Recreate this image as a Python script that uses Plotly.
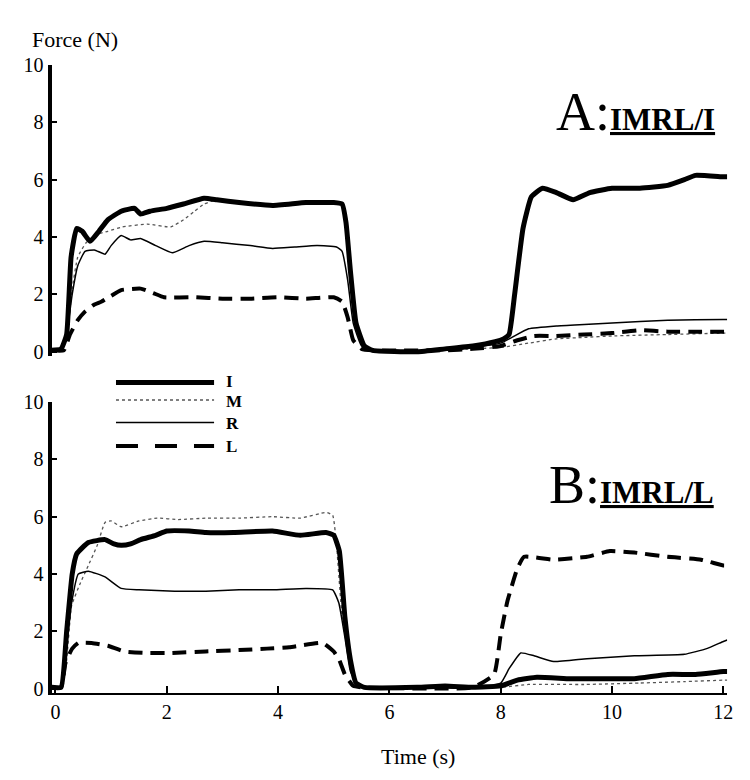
import plotly.graph_objects as go

# ---- Panel A: IMRL/I ----
a_i_t = [-0.07, 0.1, 0.2, 0.28, 0.38, 0.48, 0.62, 0.78, 0.94, 1.18, 1.42, 1.53, 1.7, 2.0, 2.3, 2.67, 2.9, 3.3, 3.9, 4.5, 5.0, 5.15, 5.22, 5.3, 5.4, 5.55, 5.7, 6.5, 7.0, 7.5, 7.9, 8.05, 8.15, 8.25, 8.4, 8.55, 8.75, 9.0, 9.3, 9.6, 10.0, 10.5, 11.0, 11.3, 11.5, 12.0, 12.07]
a_i_v = [0.05, 0.1, 0.6, 3.3, 4.3, 4.2, 3.85, 4.2, 4.6, 4.9, 5.0, 4.8, 4.9, 5.0, 5.15, 5.35, 5.3, 5.2, 5.1, 5.2, 5.2, 5.15, 4.5, 2.8, 1.0, 0.2, 0.05, 0.0, 0.1, 0.2, 0.35, 0.45, 0.6, 2.0, 4.3, 5.4, 5.7, 5.55, 5.3, 5.55, 5.7, 5.7, 5.8, 6.0, 6.15, 6.1, 6.1]

a_m_t = [-0.07, 0.1, 0.2, 0.3, 0.4, 0.55, 0.75, 0.94, 1.2, 1.65, 2.07, 2.3, 2.5, 2.67, 2.9, 3.3, 3.9, 4.5, 5.0, 5.15, 5.25, 5.35, 5.5, 5.7, 6.5, 7.0, 7.5, 8.0, 8.5, 9.0, 9.5, 10.0, 11.0, 12.0, 12.07]
a_m_v = [0.05, 0.05, 0.5, 2.2, 3.3, 3.8, 4.1, 4.2, 4.35, 4.45, 4.35, 4.6, 4.9, 5.15, 5.3, 5.2, 5.1, 5.2, 5.2, 5.1, 3.5, 1.5, 0.3, 0.05, 0.0, 0.05, 0.1, 0.15, 0.3, 0.45, 0.5, 0.55, 0.6, 0.65, 0.65]

a_r_t = [-0.07, 0.12, 0.2, 0.3, 0.4, 0.53, 0.7, 0.89, 1.0, 1.18, 1.35, 1.53, 1.8, 2.1, 2.4, 2.67, 3.0, 3.5, 3.9, 4.3, 4.7, 5.05, 5.15, 5.25, 5.35, 5.5, 5.7, 7.0, 7.5, 8.0, 8.2, 8.5, 9.0, 9.5, 10.0, 11.0, 12.0, 12.07]
a_r_v = [0.05, 0.05, 0.6, 2.0, 3.0, 3.5, 3.55, 3.4, 3.7, 4.05, 3.9, 3.95, 3.7, 3.45, 3.7, 3.85, 3.8, 3.7, 3.6, 3.65, 3.7, 3.65, 3.5, 2.5, 1.0, 0.2, 0.05, 0.05, 0.15, 0.3, 0.5, 0.8, 0.9, 0.95, 1.0, 1.1, 1.12, 1.12]

a_l_t = [-0.07, 0.15, 0.26, 0.4, 0.53, 0.7, 0.83, 1.0, 1.18, 1.53, 1.75, 1.95, 2.5, 3.0, 3.5, 4.0, 4.5, 5.0, 5.15, 5.25, 5.35, 5.5, 5.7, 7.0, 7.5, 8.0, 8.3, 8.6, 9.0, 9.5, 10.0, 10.5, 11.0, 11.5, 12.0, 12.07]
a_l_v = [0.05, 0.05, 0.6, 1.1, 1.4, 1.65, 1.75, 1.95, 2.15, 2.2, 2.05, 1.9, 1.9, 1.85, 1.85, 1.9, 1.85, 1.9, 1.75, 1.2, 0.4, 0.1, 0.05, 0.05, 0.1, 0.2, 0.4, 0.55, 0.55, 0.6, 0.65, 0.75, 0.7, 0.7, 0.7, 0.7]

# ---- Panel B: IMRL/L ----
b_i_t = [-0.07, 0.1, 0.2, 0.3, 0.38, 0.59, 0.89, 1.05, 1.18, 1.35, 1.53, 1.8, 2.0, 2.4, 2.7, 3.2, 3.9, 4.4, 4.86, 5.0, 5.1, 5.2, 5.3, 5.4, 5.55, 6.5, 7.0, 7.5, 8.0, 8.3, 8.65, 9.25, 9.8, 10.4, 11.0, 11.5, 12.0, 12.07]
b_i_v = [0.05, 0.05, 2.0, 4.0, 4.7, 5.1, 5.2, 5.05, 5.0, 5.05, 5.2, 5.35, 5.5, 5.5, 5.45, 5.45, 5.5, 5.35, 5.45, 5.35, 4.8, 2.5, 1.0, 0.2, 0.05, 0.05, 0.1, 0.05, 0.1, 0.3, 0.4, 0.35, 0.35, 0.35, 0.5, 0.5, 0.6, 0.6]

b_m_t = [-0.07, 0.1, 0.2, 0.29, 0.45, 0.59, 0.75, 0.89, 1.0, 1.18, 1.5, 1.83, 2.2, 2.72, 3.3, 3.9, 4.4, 4.86, 4.98, 5.05, 5.15, 5.3, 5.45, 5.6, 8.0, 8.5, 9.5, 10.5, 11.3, 12.0, 12.07]
b_m_v = [0.05, 0.05, 1.0, 2.9, 3.7, 4.3, 5.0, 5.8, 5.85, 5.65, 5.85, 5.95, 5.9, 5.95, 5.95, 6.0, 5.95, 6.15, 6.05, 5.0, 2.5, 0.8, 0.1, 0.05, 0.05, 0.15, 0.15, 0.2, 0.25, 0.3, 0.3]

b_r_t = [-0.07, 0.1, 0.2, 0.29, 0.41, 0.59, 0.89, 1.18, 1.5, 2.14, 2.7, 3.3, 3.9, 4.5, 4.98, 5.09, 5.2, 5.3, 5.45, 5.6, 7.5, 8.0, 8.15, 8.36, 8.6, 8.95, 9.55, 10.4, 11.3, 11.7, 12.0, 12.07]
b_r_v = [0.05, 0.05, 1.5, 3.0, 4.0, 4.1, 3.9, 3.5, 3.45, 3.4, 3.4, 3.45, 3.45, 3.5, 3.45, 3.0, 1.8, 0.6, 0.1, 0.05, 0.05, 0.2, 0.7, 1.25, 1.15, 0.95, 1.05, 1.15, 1.2, 1.4, 1.65, 1.7]

b_l_t = [-0.07, 0.1, 0.18, 0.3, 0.41, 0.65, 0.94, 1.24, 1.6, 2.1, 2.7, 3.3, 3.8, 4.2, 4.8, 5.0, 5.1, 5.2, 5.35, 5.5, 7.5, 7.88, 8.0, 8.12, 8.3, 8.42, 8.95, 9.55, 9.96, 10.4, 11.0, 11.6, 12.0, 12.07]
b_l_v = [0.05, 0.05, 0.9, 1.4, 1.6, 1.6, 1.5, 1.3, 1.25, 1.25, 1.3, 1.35, 1.4, 1.45, 1.6, 1.3, 1.0, 0.5, 0.1, 0.05, 0.05, 0.5, 1.9, 3.05, 4.2, 4.6, 4.5, 4.6, 4.8, 4.75, 4.6, 4.5, 4.3, 4.3]

x_ticks = [0, 2, 4, 6, 8, 10, 12]
y_ticks = [0, 2, 4, 6, 8, 10]
legend_names = ["I", "M", "R", "L"]

W, H = 750, 780
SERIF = "Liberation Serif"

styles = {
    "I": dict(color="black", width=5, dash="solid"),
    "M": dict(color="#555555", width=1.3, dash="dot"),
    "R": dict(color="black", width=1.5, dash="solid"),
    "L": dict(color="black", width=4, dash="14px,8px"),
}

fig = go.Figure()
panels = [
    ("x", "y", [(a_i_t, a_i_v, "I"), (a_m_t, a_m_v, "M"), (a_r_t, a_r_v, "R"), (a_l_t, a_l_v, "L")]),
    ("x2", "y2", [(b_i_t, b_i_v, "I"), (b_m_t, b_m_v, "M"), (b_r_t, b_r_v, "R"), (b_l_t, b_l_v, "L")]),
]
# thin lines first, thick on top
order = {"M": 0, "R": 1, "L": 2, "I": 3}
for xa, ya, series in panels:
    for t, v, name in sorted(series, key=lambda s: order[s[2]]):
        fig.add_trace(go.Scatter(x=t, y=v, mode="lines", name=name, xaxis=xa, yaxis=ya,
                                 line=dict(shape="spline", smoothing=0.4, **styles[name]),
                                 showlegend=False))

def px_x(p):
    return p / W

def px_y(p):
    return 1 - p / H

xdom = [px_x(43), px_x(725)]
xr = [-0.07, 12.07]
yr = [-0.15, 10]
tickfont = dict(family=SERIF, size=20, color="black")

fig.update_layout(
    width=W, height=H,
    margin=dict(l=0, r=0, t=0, b=0),
    paper_bgcolor="white", plot_bgcolor="white",
    font=dict(family=SERIF, color="black"),
    xaxis=dict(domain=xdom, range=xr, anchor="y", showline=False, showticklabels=False,
               ticks="", showgrid=False, zeroline=False),
    yaxis=dict(domain=[px_y(345), px_y(47)], range=yr, anchor="x", tickvals=y_ticks,
               showline=True, linewidth=4, linecolor="black", ticks="inside", ticklen=5,
               tickwidth=2, tickcolor="black", showgrid=False, zeroline=False, tickfont=tickfont),
    xaxis2=dict(domain=xdom, range=xr, anchor="y2", tickvals=x_ticks, showline=True,
                linewidth=2, linecolor="black", ticks="inside", ticklen=7, tickwidth=2,
                tickcolor="black", showgrid=False, zeroline=False, tickfont=tickfont),
    yaxis2=dict(domain=[px_y(690), px_y(392)], range=yr, anchor="x2", tickvals=y_ticks,
                showline=True, linewidth=4, linecolor="black", ticks="inside", ticklen=5,
                tickwidth=2, tickcolor="black", showgrid=False, zeroline=False, tickfont=tickfont),
)

# legend drawn as line samples with bold letters
leg_y = [372, 390, 413, 437]
lab_y = [371, 392, 414, 438]
for name, py, ly in zip(legend_names, leg_y, lab_y):
    st = styles[name]
    dash = "22px,17px" if name == "L" else st["dash"]
    fig.add_shape(type="line", xref="paper", yref="paper",
                  x0=px_x(108), x1=px_x(207), y0=px_y(py), y1=px_y(py),
                  line=dict(color=st["color"], width=st["width"], dash=dash))
    fig.add_annotation(text="<b>%s</b>" % name, xref="paper", yref="paper",
                       x=px_x(217), y=px_y(ly), xanchor="left", yanchor="middle",
                       showarrow=False, font=dict(family=SERIF, size=17, color="black"))

fig.add_annotation(text="Force (N)", xref="paper", yref="paper", x=px_x(21), y=px_y(21),
                   xanchor="left", yanchor="middle", showarrow=False,
                   font=dict(family=SERIF, size=22, color="black"))
fig.add_annotation(text="Time (s)", xref="paper", yref="paper", x=px_x(413), y=px_y(755),
                   xanchor="center", yanchor="middle", showarrow=False,
                   font=dict(family=SERIF, size=22, color="black"))
fig.add_annotation(text="A:<b><u><span style='font-size:31px'>IMRL/I</span></u></b>",
                   xref="paper", yref="paper", x=px_x(715), y=px_y(95),
                   xanchor="right", yanchor="middle", showarrow=False,
                   font=dict(family=SERIF, size=54, color="black"))
fig.add_annotation(text="B:<b><u><span style='font-size:31px'>IMRL/L</span></u></b>",
                   xref="paper", yref="paper", x=px_x(714), y=px_y(477),
                   xanchor="right", yanchor="middle", showarrow=False,
                   font=dict(family=SERIF, size=54, color="black"))

fig.write_html("out.html")
